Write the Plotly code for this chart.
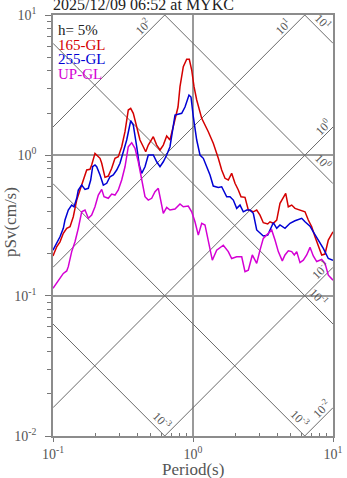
import numpy as np
import plotly.graph_objects as go

# ---- response spectra (period [s], pseudo velocity [cm/s]) ----
period_165 = [0.100, 0.1063, 0.1122, 0.1185, 0.1253, 0.1323, 0.1396, 0.1477, 0.1559, 0.1646,
              0.1741, 0.1837, 0.1889, 0.1995, 0.2107, 0.2167, 0.2228, 0.2352, 0.2483, 0.2626,
              0.2772, 0.2927, 0.3095, 0.3268, 0.3449, 0.3589, 0.3746, 0.3962, 0.4182, 0.4416,
              0.4594, 0.4793, 0.5070, 0.5205, 0.5504, 0.5811, 0.6136, 0.6488, 0.6849, 0.7234,
              0.7438, 0.7815, 0.8075, 0.8526, 0.9016, 0.9410, 0.9788, 1.017, 1.063, 1.154,
              1.286, 1.396, 1.516, 1.603, 1.693, 1.787, 1.889, 1.995, 2.107, 2.203,
              2.352, 2.483, 2.696, 2.851, 3.010, 3.178, 3.417, 3.548, 3.746, 3.963,
              4.182, 4.416, 4.594, 4.795, 5.070, 5.353, 5.811, 6.310, 6.662, 7.046,
              7.437, 7.852, 8.305, 8.768, 9.257, 10.0]
psv_165 = [0.192, 0.223, 0.242, 0.278, 0.302, 0.310, 0.365, 0.480, 0.566, 0.667,
           0.786, 0.795, 0.853, 1.033, 0.977, 0.952, 0.877, 0.697, 0.712, 0.808,
           0.952, 0.977, 1.152, 1.473, 2.103, 2.163, 1.992, 1.599, 1.286, 1.152,
           1.061, 1.184, 1.286, 1.357, 1.184, 1.091, 1.184, 1.373, 1.286, 1.599,
           1.784, 2.210, 3.083, 4.281, 4.833, 4.833, 4.055, 3.083, 2.479, 1.835,
           1.473, 1.218, 0.952, 0.786, 0.686, 0.667, 0.744, 0.632, 0.566, 0.507,
           0.502, 0.408, 0.396, 0.408, 0.375, 0.331, 0.324, 0.336, 0.328, 0.346,
           0.455, 0.507, 0.536, 0.430, 0.442, 0.419, 0.408, 0.396, 0.346, 0.310,
           0.263, 0.223, 0.195, 0.198, 0.249, 0.285]

period_255 = [0.100, 0.1063, 0.1122, 0.1185, 0.1218, 0.1286, 0.1360, 0.1413, 0.1477, 0.1516,
              0.1603, 0.1693, 0.1788, 0.1859, 0.1920, 0.1995, 0.2051, 0.2167, 0.2288, 0.2419,
              0.2553, 0.2695, 0.2851, 0.3010, 0.3177, 0.3360, 0.3589, 0.3746, 0.3962, 0.4134,
              0.4301, 0.4541, 0.4793, 0.5205, 0.5504, 0.5811, 0.6136, 0.6488, 0.6849, 0.7234,
              0.7438, 0.8304, 0.8767, 0.9363, 0.9676, 1.005, 1.063, 1.122, 1.185, 1.253,
              1.323, 1.396, 1.516, 1.603, 1.673, 1.741, 1.837, 1.941, 2.052, 2.167,
              2.287, 2.419, 2.553, 2.696, 2.851, 3.010, 3.178, 3.417, 3.548, 3.746,
              3.963, 4.182, 4.541, 4.931, 5.353, 5.651, 5.976, 6.310, 6.852, 7.233,
              7.852, 8.525, 9.257, 10.0]
psv_255 = [0.211, 0.236, 0.263, 0.302, 0.346, 0.408, 0.442, 0.430, 0.494, 0.566,
           0.614, 0.572, 0.582, 0.667, 0.829, 0.853, 0.829, 0.724, 0.614, 0.632,
           0.704, 0.724, 0.786, 0.877, 1.061, 1.286, 1.764, 1.644, 1.152, 0.853,
           0.744, 0.829, 1.005, 1.005, 0.900, 0.829, 0.900, 1.005, 1.152, 1.557,
           1.937, 1.992, 2.210, 2.690, 2.603, 1.884, 1.286, 1.005, 0.952, 0.829,
           0.724, 0.604, 0.591, 0.597, 0.550, 0.507, 0.507, 0.480, 0.419, 0.442,
           0.396, 0.408, 0.408, 0.386, 0.294, 0.281, 0.266, 0.270, 0.294, 0.331,
           0.302, 0.319, 0.302, 0.328, 0.342, 0.350, 0.356, 0.336, 0.313, 0.285,
           0.249, 0.217, 0.184, 0.179]

period_up = [0.100, 0.1063, 0.1122, 0.1185, 0.1253, 0.1286, 0.1360, 0.1436, 0.1516, 0.1603,
             0.1693, 0.1788, 0.1889, 0.1995, 0.2107, 0.2228, 0.2314, 0.2483, 0.2626, 0.2772,
             0.2927, 0.3095, 0.3268, 0.3449, 0.3648, 0.3852, 0.4067, 0.4301, 0.4541, 0.4793,
             0.5070, 0.5353, 0.5651, 0.5878, 0.6136, 0.6488, 0.6849, 0.7438, 0.8075, 0.8526,
             0.9256, 0.9788, 1.033, 1.091, 1.154, 1.218, 1.286, 1.374, 1.476, 1.646,
             1.787, 1.889, 2.052, 2.228, 2.352, 2.483, 2.652, 2.851, 3.010, 3.178,
             3.451, 3.648, 3.852, 4.068, 4.344, 4.541, 4.795, 5.070, 5.292, 5.505,
             5.811, 6.137, 6.488, 6.852, 7.233, 7.648, 8.305, 8.768, 9.257, 10.0]
psv_up = [0.113, 0.124, 0.133, 0.144, 0.150, 0.161, 0.206, 0.242, 0.302, 0.396,
          0.408, 0.356, 0.375, 0.430, 0.521, 0.572, 0.507, 0.494, 0.530, 0.521,
          0.566, 0.667, 0.829, 1.152, 1.230, 1.122, 0.900, 0.667, 0.507, 0.480,
          0.494, 0.550, 0.582, 0.480, 0.386, 0.426, 0.408, 0.414, 0.450, 0.430,
          0.435, 0.396, 0.336, 0.270, 0.328, 0.319, 0.249, 0.179, 0.211, 0.229,
          0.206, 0.184, 0.189, 0.189, 0.148, 0.152, 0.195, 0.170, 0.211, 0.256,
          0.278, 0.294, 0.249, 0.206, 0.177, 0.195, 0.209, 0.206, 0.195, 0.206,
          0.172, 0.179, 0.195, 0.221, 0.192, 0.175, 0.181, 0.170, 0.140, 0.129]

series_names = ["165-GL", "255-GL", "UP-GL"]
series_colors = ["#d40000", "#0000d4", "#d400d4"]

# ---- tripartite reference levels ----
disp_levels = [1e1, 1e0, 1e-1, 1e-2, 1e-3]          # Sd [cm], lines falling to the right
disp_labels = ["10<sup>1</sup>", "10<sup>0</sup>", "10<sup>-1</sup>", "10<sup>-3</sup>", "10<sup>-3</sup>"]
acc_levels = [1e2, 1e1, 1e0, 1e-1, 1e-2]            # Sa [cm/s^2], lines rising to the right
acc_labels = ["10<sup>2</sup>", "10<sup>1</sup>", "10<sup>0</sup>", "10<sup>-1</sup>", "10<sup>-2</sup>"]

x_ticks = [0.1, 1, 10]
x_ticktext = ["10<sup>-1</sup>", "10<sup>0</sup>", "10<sup>1</sup>"]
y_ticks = [0.01, 0.1, 1, 10]
y_ticktext = ["10<sup>-2</sup>", "10<sup>-1</sup>", "10<sup>0</sup>", "10<sup>1</sup>"]

title_text = "2025/12/09 06:52 at MYKC"
damping_text = "h= 5%"

# ---- layout geometry ----
XR = (-1.0, 1.0)   # log10 period range
YR = (-2.0, 1.0)   # log10 pSv range
ML, MR, MT, MB = 53, 14, 15, 42
FIG_W, FIG_H = 347, 478
PW, PH = FIG_W - ML - MR, FIG_H - MT - MB
FONT = "Liberation Serif"
TWO_PI = 2 * np.pi

def paper_x(px):
    return (px - ML) / PW

def paper_y(py):
    return (MT + PH - py) / PH

# label anchor positions along each diagonal (log10 period)
disp_label_at = [0.886, 0.886, 0.850, 0.718, -0.266]
acc_label_at = [-0.321, 0.679, 0.962, 0.943, 0.957]

fig = go.Figure()

def clipped_segment(c, slope):
    # line log10(pSv) = c + slope*log10(T), clipped to the axis box
    xs = [(yb - c) / slope for yb in YR]
    lo = max(XR[0], min(xs))
    hi = min(XR[1], max(xs))
    return [lo, hi], [c + slope * lo, c + slope * hi]

annotations = []

for lev, lab, at in zip(disp_levels, disp_labels, disp_label_at):
    c = np.log10(TWO_PI * lev)
    lx, ly = clipped_segment(c, -1.0)
    fig.add_trace(go.Scatter(x=[10 ** v for v in lx], y=[10 ** v for v in ly], mode="lines",
                             line=dict(color="#6a6a6a", width=1), hoverinfo="skip", showlegend=False))
    annotations.append(dict(x=at, y=c - at, xref="x", yref="y", text=lab, showarrow=False,
                            textangle=45, xshift=6, yshift=6, xanchor="center", yanchor="middle",
                            font=dict(family=FONT, size=12, color="#555555")))

for lev, lab, at in zip(acc_levels, acc_labels, acc_label_at):
    c = np.log10(lev / TWO_PI)
    lx, ly = clipped_segment(c, 1.0)
    fig.add_trace(go.Scatter(x=[10 ** v for v in lx], y=[10 ** v for v in ly], mode="lines",
                             line=dict(color="#6a6a6a", width=1), hoverinfo="skip", showlegend=False))
    annotations.append(dict(x=at, y=c + at, xref="x", yref="y", text=lab, showarrow=False,
                            textangle=-45, xshift=-5, yshift=5, xanchor="center", yanchor="middle",
                            font=dict(family=FONT, size=12, color="#555555")))

for per, psv, name, col in zip([period_165, period_255, period_up],
                               [psv_165, psv_255, psv_up], series_names, series_colors):
    fig.add_trace(go.Scatter(x=per, y=psv, mode="lines", name=name,
                             line=dict(color=col, width=1.5), showlegend=False))

# text block in the upper-left corner
legend_lines = [(damping_text, "#222222")] + list(zip(series_names, series_colors))
for i, (txt, col) in enumerate(legend_lines):
    annotations.append(dict(x=paper_x(56), y=paper_y(30 + 14.5 * i), xref="paper", yref="paper",
                            text=txt, showarrow=False, xanchor="left", yanchor="middle",
                            font=dict(family=FONT, size=15, color=col)))

annotations.append(dict(x=paper_x(51), y=paper_y(5), xref="paper", yref="paper", text=title_text,
                        showarrow=False, xanchor="left", yanchor="middle",
                        font=dict(family=FONT, size=16, color="#222222")))
annotations.append(dict(x=paper_x(10), y=paper_y(222), xref="paper", yref="paper", text="pSv(cm/s)",
                        showarrow=False, textangle=-90, xanchor="center", yanchor="middle",
                        font=dict(family=FONT, size=17, color="#555555")))
annotations.append(dict(x=paper_x(193), y=paper_y(469), xref="paper", yref="paper", text="Period(s)",
                        showarrow=False, xanchor="center", yanchor="middle",
                        font=dict(family=FONT, size=17, color="#555555")))

minor_x = [m * 10 ** e for e in (-1, 0) for m in range(2, 10)]
minor_y = [m * 10 ** e for e in (-2, -1, 0) for m in range(2, 10)]

axis_common = dict(type="log", showline=True, mirror=True, linecolor="#8c8c8c", linewidth=1.5,
                   showgrid=True, gridcolor="#9a9a9a", gridwidth=1.5, zeroline=False,
                   tickmode="array", ticks="outside", tickcolor="#777777", automargin=False,
                   tickfont=dict(family=FONT, size=14, color="#555555"))

fig.update_layout(
    width=FIG_W, height=FIG_H, autosize=False,
    margin=dict(l=ML, r=MR, t=MT, b=MB, autoexpand=False),
    paper_bgcolor="white", plot_bgcolor="white",
    xaxis=dict(range=list(XR), tickvals=x_ticks, ticktext=x_ticktext, ticklen=4,
               minor=dict(tickmode="array", tickvals=minor_x, ticks="inside", ticklen=3,
                          tickcolor="#777777", showgrid=False),
               **axis_common),
    yaxis=dict(range=list(YR), tickvals=y_ticks, ticktext=y_ticktext, ticklen=6,
               ticklabelstandoff=6,
               minor=dict(tickmode="array", tickvals=minor_y, ticks="outside", ticklen=4,
                          tickcolor="#777777", showgrid=False),
               **axis_common),
    annotations=annotations,
    showlegend=False,
)

fig.write_html("out.html")
